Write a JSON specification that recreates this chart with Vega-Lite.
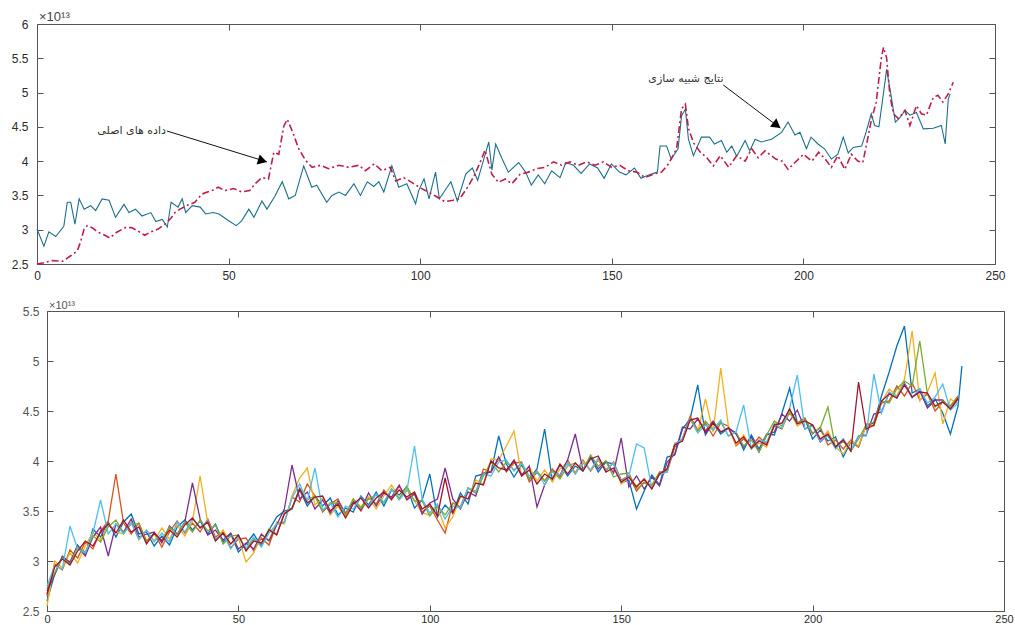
{
  "$schema": "https://vega.github.io/schema/vega-lite/v6.json",
  "background": "white",
  "padding": {"left": 11, "top": 11, "right": 0, "bottom": 0},
  "config": {
    "view": {"stroke": null},
    "axis": {"grid": false, "domainColor": "#555555", "tickColor": "#555555", "labelColor": "#2b2b2b", "labelFont": "Liberation Sans", "labelFontSize": 12, "tickSize": -6, "domainWidth": 1, "tickWidth": 1, "labelFlush": false, "labelOverlap": false}
  },
  "datasets": {
    "sim": [
      {"x":0,"y":3.01},{"x":1.8,"y":2.76},{"x":3.1,"y":2.97},{"x":4.9,"y":2.9},{"x":7,"y":3.05},{"x":7.9,"y":3.4},{"x":8.8,"y":3.4},{"x":9.9,"y":3.08},{"x":11,"y":3.45},{"x":12.3,"y":3.3},{"x":14,"y":3.35},{"x":15.3,"y":3.28},{"x":17,"y":3.45},{"x":18.8,"y":3.43},{"x":20.5,"y":3.18},{"x":22.7,"y":3.37},{"x":24,"y":3.25},{"x":25.7,"y":3.3},{"x":27.4,"y":3.2},{"x":29.7,"y":3.25},{"x":31,"y":3.12},{"x":32.7,"y":3.15},{"x":34,"y":3.04},{"x":35,"y":3.4},{"x":36.8,"y":3.33},{"x":37.9,"y":3.45},{"x":38.8,"y":3.25},{"x":40.5,"y":3.35},{"x":42.6,"y":3.33},{"x":44,"y":3.23},{"x":46,"y":3.25},{"x":47.5,"y":3.23},{"x":50,"y":3.13},{"x":52,"y":3.06},{"x":53.4,"y":3.13},{"x":55.3,"y":3.3},{"x":56.6,"y":3.18},{"x":58.7,"y":3.42},{"x":60,"y":3.3},{"x":62,"y":3.48},{"x":64,"y":3.7},{"x":65.7,"y":3.45},{"x":67.4,"y":3.5},{"x":69.6,"y":3.93},{"x":71.7,"y":3.62},{"x":73,"y":3.65},{"x":75.6,"y":3.4},{"x":77,"y":3.5},{"x":78.8,"y":3.55},{"x":80.5,"y":3.5},{"x":82.7,"y":3.67},{"x":84.4,"y":3.5},{"x":86.2,"y":3.7},{"x":87.9,"y":3.63},{"x":89.2,"y":3.7},{"x":90.5,"y":3.55},{"x":92.6,"y":3.93},{"x":94.4,"y":3.62},{"x":96.5,"y":3.67},{"x":98.8,"y":3.38},{"x":99.6,"y":3.57},{"x":101,"y":3.74},{"x":102.3,"y":3.45},{"x":104,"y":3.84},{"x":105,"y":3.45},{"x":106.2,"y":3.55},{"x":108,"y":3.7},{"x":109.7,"y":3.42},{"x":111.9,"y":3.81},{"x":113.6,"y":3.9},{"x":115,"y":3.72},{"x":116.6,"y":4.03},{"x":117.9,"y":4.28},{"x":118.7,"y":3.87},{"x":119.7,"y":4.25},{"x":121.4,"y":4.03},{"x":123,"y":3.84},{"x":125.7,"y":3.98},{"x":127.5,"y":3.84},{"x":129,"y":3.65},{"x":130.8,"y":3.8},{"x":132.5,"y":3.67},{"x":134.3,"y":3.86},{"x":136.5,"y":3.76},{"x":138,"y":3.98},{"x":140,"y":3.94},{"x":142,"y":3.82},{"x":144.2,"y":3.96},{"x":146.3,"y":3.9},{"x":148,"y":3.75},{"x":149.9,"y":3.96},{"x":152,"y":3.84},{"x":153.7,"y":3.8},{"x":155.9,"y":3.9},{"x":157.6,"y":3.75},{"x":159.8,"y":3.8},{"x":161.9,"y":3.84},{"x":162.6,"y":4.22},{"x":164.3,"y":4.22},{"x":165.5,"y":4.03},{"x":167.3,"y":4.18},{"x":168.2,"y":4.66},{"x":169.2,"y":4.76},{"x":170,"y":4.32},{"x":171.3,"y":4.08},{"x":173.4,"y":4.35},{"x":175.5,"y":4.35},{"x":176.8,"y":4.25},{"x":178.6,"y":4.3},{"x":180,"y":4.13},{"x":181.3,"y":4.22},{"x":182.6,"y":4.07},{"x":184.8,"y":4.3},{"x":186,"y":4.15},{"x":187.4,"y":4.32},{"x":189,"y":4.28},{"x":191.7,"y":4.32},{"x":194.3,"y":4.42},{"x":196,"y":4.57},{"x":197.8,"y":4.38},{"x":199.1,"y":4.42},{"x":200.8,"y":4.18},{"x":202,"y":4.35},{"x":203.8,"y":4.25},{"x":205.5,"y":4.18},{"x":207.3,"y":4.03},{"x":209,"y":4.1},{"x":210.4,"y":4.35},{"x":211.7,"y":4.12},{"x":213,"y":4.2},{"x":215.2,"y":4.22},{"x":216.4,"y":4.43},{"x":217.7,"y":4.69},{"x":218.6,"y":4.52},{"x":219.7,"y":4.5},{"x":221.4,"y":5.2},{"x":221.7,"y":5.34},{"x":222.6,"y":5.05},{"x":224,"y":4.57},{"x":225.3,"y":4.64},{"x":226.5,"y":4.74},{"x":227.8,"y":4.67},{"x":229.5,"y":4.71},{"x":231.3,"y":4.47},{"x":233.9,"y":4.48},{"x":236,"y":4.52},{"x":237,"y":4.25},{"x":237.8,"y":4.9},{"x":238.3,"y":4.98}
    ],
    "orig": [
      {"x":0,"y":2.5},{"x":2,"y":2.52},{"x":4,"y":2.55},{"x":6.7,"y":2.54},{"x":8.8,"y":2.62},{"x":10.5,"y":2.69},{"x":11.3,"y":2.81},{"x":12.3,"y":3.01},{"x":13.1,"y":3.06},{"x":14.4,"y":3.03},{"x":16,"y":2.96},{"x":17.7,"y":2.92},{"x":19,"y":2.88},{"x":20.7,"y":2.96},{"x":23,"y":3.03},{"x":24.7,"y":3.03},{"x":26.4,"y":2.98},{"x":28.1,"y":2.92},{"x":29.4,"y":2.96},{"x":31.6,"y":3.01},{"x":33.8,"y":3.1},{"x":35,"y":3.17},{"x":36,"y":3.25},{"x":37.3,"y":3.3},{"x":39,"y":3.35},{"x":41.2,"y":3.4},{"x":43,"y":3.52},{"x":45.6,"y":3.57},{"x":47.3,"y":3.62},{"x":49,"y":3.57},{"x":51.3,"y":3.6},{"x":53.4,"y":3.55},{"x":55.5,"y":3.57},{"x":56.9,"y":3.67},{"x":58.7,"y":3.76},{"x":60.4,"y":3.74},{"x":61.8,"y":4.13},{"x":63.1,"y":4.1},{"x":64.4,"y":4.51},{"x":65.3,"y":4.61},{"x":66.6,"y":4.44},{"x":68.3,"y":4.18},{"x":70.1,"y":4.01},{"x":71.8,"y":3.91},{"x":74,"y":3.94},{"x":76.1,"y":3.89},{"x":78.8,"y":3.94},{"x":81.3,"y":3.91},{"x":84,"y":3.94},{"x":85.7,"y":3.86},{"x":88,"y":3.96},{"x":90,"y":3.86},{"x":92.2,"y":3.91},{"x":93.6,"y":3.71},{"x":95.7,"y":3.76},{"x":97.8,"y":3.69},{"x":100,"y":3.61},{"x":102.2,"y":3.55},{"x":104.3,"y":3.48},{"x":106.4,"y":3.41},{"x":108.6,"y":3.43},{"x":110.3,"y":3.45},{"x":112.6,"y":3.64},{"x":114.3,"y":3.81},{"x":116,"y":4.03},{"x":116.9,"y":4.16},{"x":118.7,"y":3.81},{"x":120.4,"y":3.69},{"x":122.2,"y":3.74},{"x":123.9,"y":3.67},{"x":126.1,"y":3.81},{"x":128.2,"y":3.84},{"x":130.4,"y":3.89},{"x":132.6,"y":3.91},{"x":134.8,"y":3.99},{"x":136.9,"y":3.94},{"x":139.1,"y":3.99},{"x":141.3,"y":3.94},{"x":143.4,"y":3.99},{"x":145.6,"y":3.94},{"x":147.8,"y":3.99},{"x":150,"y":3.91},{"x":152.1,"y":3.94},{"x":154.3,"y":3.86},{"x":156.5,"y":3.84},{"x":158.7,"y":3.76},{"x":160.8,"y":3.81},{"x":163,"y":3.84},{"x":164.8,"y":3.96},{"x":166.9,"y":4.18},{"x":168.2,"y":4.76},{"x":169.2,"y":4.83},{"x":170,"y":4.48},{"x":171.3,"y":4.27},{"x":173.1,"y":4.13},{"x":174.8,"y":4.05},{"x":176.5,"y":3.93},{"x":178.3,"y":4.08},{"x":180.5,"y":3.91},{"x":182.6,"y":4.08},{"x":184.8,"y":4.0},{"x":186.5,"y":4.18},{"x":188.2,"y":4.05},{"x":190,"y":4.15},{"x":192.8,"y":4.03},{"x":194.5,"y":4.0},{"x":196,"y":3.88},{"x":197.8,"y":3.98},{"x":200,"y":4.1},{"x":202.2,"y":4.0},{"x":204,"y":4.13},{"x":205.7,"y":4.03},{"x":207.3,"y":3.91},{"x":209,"y":4.08},{"x":210.8,"y":3.88},{"x":212.5,"y":4.1},{"x":214.2,"y":4.0},{"x":215.5,"y":3.98},{"x":216.4,"y":4.22},{"x":217.7,"y":4.59},{"x":219,"y":4.86},{"x":220.3,"y":5.49},{"x":220.9,"y":5.66},{"x":221.7,"y":5.51},{"x":222.6,"y":4.95},{"x":223.5,"y":4.69},{"x":224.8,"y":4.62},{"x":226.5,"y":4.74},{"x":227.8,"y":4.52},{"x":229.5,"y":4.81},{"x":230.8,"y":4.69},{"x":232.1,"y":4.67},{"x":233.9,"y":4.93},{"x":235.1,"y":4.96},{"x":236.4,"y":4.86},{"x":237.8,"y":4.98},{"x":239.1,"y":5.15}
    ],
    "bot": [
      {"x":0,"a":2.60,"b":2.65,"c":2.55,"d":2.70,"e":2.73,"f":2.75,"g":2.67},
      {"x":2,"a":2.87,"b":2.97,"c":3.00,"d":2.86,"e":2.88,"f":2.95,"g":2.94},
      {"x":4,"a":3.05,"b":2.91,"c":2.93,"d":3.04,"e":3.03,"f":2.92,"g":3.02},
      {"x":6,"a":2.98,"b":3.11,"c":3.08,"d":2.99,"e":2.97,"f":3.35,"g":2.96},
      {"x":8,"a":3.16,"b":3.03,"c":2.98,"d":3.15,"e":3.14,"f":3.12,"g":3.10},
      {"x":10,"a":3.06,"b":3.19,"c":3.15,"d":3.05,"e":3.09,"f":3.08,"g":3.20},
      {"x":12,"a":3.32,"b":3.12,"c":3.29,"d":3.24,"e":3.25,"f":3.28,"g":3.15},
      {"x":14,"a":3.24,"b":3.30,"c":3.21,"d":3.34,"e":3.19,"f":3.61,"g":3.29},
      {"x":16,"a":3.39,"b":3.40,"c":3.37,"d":3.05,"e":3.34,"f":3.27,"g":3.37},
      {"x":18,"a":3.24,"b":3.87,"c":3.29,"d":3.37,"e":3.41,"f":3.37,"g":3.28},
      {"x":20,"a":3.39,"b":3.38,"c":3.27,"d":3.29,"e":3.28,"f":3.27,"g":3.41},
      {"x":22,"a":3.47,"b":3.27,"c":3.39,"d":3.42,"e":3.37,"f":3.38,"g":3.29},
      {"x":24,"a":3.27,"b":3.38,"c":3.21,"d":3.24,"e":3.37,"f":3.22,"g":3.34},
      {"x":26,"a":3.29,"b":3.20,"c":3.31,"d":3.27,"e":3.18,"f":3.31,"g":3.17},
      {"x":28,"a":3.15,"b":3.28,"c":3.20,"d":3.29,"e":3.27,"f":3.19,"g":3.28},
      {"x":30,"a":3.25,"b":3.14,"c":3.33,"d":3.18,"e":3.21,"f":3.28,"g":3.20},
      {"x":32,"a":3.16,"b":3.29,"c":3.22,"d":3.35,"e":3.34,"f":3.19,"g":3.31},
      {"x":34,"a":3.34,"b":3.40,"c":3.36,"d":3.27,"e":3.26,"f":3.39,"g":3.24},
      {"x":36,"a":3.41,"b":3.28,"c":3.25,"d":3.39,"e":3.39,"f":3.29,"g":3.36},
      {"x":38,"a":3.31,"b":3.38,"c":3.40,"d":3.78,"e":3.29,"f":3.42,"g":3.43},
      {"x":40,"a":3.40,"b":3.29,"c":3.85,"d":3.42,"e":3.41,"f":3.34,"g":3.33},
      {"x":42,"a":3.27,"b":3.42,"c":3.38,"d":3.26,"e":3.30,"f":3.40,"g":3.39},
      {"x":44,"a":3.37,"b":3.24,"c":3.21,"d":3.31,"e":3.36,"f":3.22,"g":3.20},
      {"x":46,"a":3.19,"b":3.29,"c":3.31,"d":3.21,"e":3.17,"f":3.27,"g":3.28},
      {"x":48,"a":3.27,"b":3.13,"c":3.17,"d":3.28,"e":3.25,"f":3.12,"g":3.17},
      {"x":50,"a":3.09,"b":3.22,"c":3.23,"d":3.12,"e":3.26,"f":3.24,"g":3.26},
      {"x":52,"a":3.17,"b":3.23,"c":2.99,"d":3.18,"e":3.11,"f":3.13,"g":3.10},
      {"x":54,"a":3.27,"b":3.10,"c":3.08,"d":3.12,"e":3.22,"f":3.24,"g":3.20},
      {"x":56,"a":3.15,"b":3.23,"c":3.26,"d":3.27,"e":3.17,"f":3.14,"g":3.18},
      {"x":58,"a":3.31,"b":3.16,"c":3.21,"d":3.20,"e":3.32,"f":3.28,"g":3.31},
      {"x":60,"a":3.44,"b":3.37,"c":3.39,"d":3.36,"e":3.27,"f":3.37,"g":3.26},
      {"x":62,"a":3.50,"b":3.39,"c":3.37,"d":3.52,"e":3.48,"f":3.38,"g":3.47},
      {"x":64,"a":3.52,"b":3.64,"c":3.65,"d":3.96,"e":3.52,"f":3.63,"g":3.53},
      {"x":66,"a":3.71,"b":3.59,"c":3.83,"d":3.62,"e":3.73,"f":3.77,"g":3.72},
      {"x":68,"a":3.55,"b":3.77,"c":3.93,"d":3.69,"e":3.61,"f":3.60,"g":3.58},
      {"x":70,"a":3.65,"b":3.65,"c":3.56,"d":3.52,"e":3.65,"f":3.93,"g":3.64},
      {"x":72,"a":3.55,"b":3.49,"c":3.63,"d":3.61,"e":3.50,"f":3.51,"g":3.65},
      {"x":74,"a":3.63,"b":3.57,"c":3.46,"d":3.48,"e":3.58,"f":3.58,"g":3.50},
      {"x":76,"a":3.46,"b":3.62,"c":3.55,"d":3.60,"e":3.58,"f":3.44,"g":3.57},
      {"x":78,"a":3.53,"b":3.46,"c":3.44,"d":3.48,"e":3.47,"f":3.55,"g":3.43},
      {"x":80,"a":3.49,"b":3.60,"c":3.62,"d":3.59,"e":3.62,"f":3.52,"g":3.57},
      {"x":82,"a":3.65,"b":3.50,"c":3.54,"d":3.51,"e":3.53,"f":3.64,"g":3.63},
      {"x":84,"a":3.56,"b":3.63,"c":3.64,"d":3.68,"e":3.62,"f":3.54,"g":3.53},
      {"x":86,"a":3.69,"b":3.57,"c":3.52,"d":3.55,"e":3.66,"f":3.67,"g":3.63},
      {"x":88,"a":3.55,"b":3.71,"c":3.65,"d":3.68,"e":3.58,"f":3.59,"g":3.69},
      {"x":90,"a":3.71,"b":3.61,"c":3.76,"d":3.64,"e":3.72,"f":3.72,"g":3.62},
      {"x":92,"a":3.66,"b":3.75,"c":3.63,"d":3.76,"e":3.62,"f":3.61,"g":3.71},
      {"x":94,"a":3.74,"b":3.62,"c":3.72,"d":3.61,"e":3.75,"f":3.70,"g":3.64},
      {"x":96,"a":3.53,"b":3.68,"c":3.60,"d":3.67,"e":3.60,"f":4.15,"g":3.69},
      {"x":98,"a":3.61,"b":3.49,"c":3.48,"d":3.47,"e":3.60,"f":3.62,"g":3.52},
      {"x":100,"a":3.87,"b":3.55,"c":3.46,"d":3.58,"e":3.45,"f":3.48,"g":3.57},
      {"x":102,"a":3.44,"b":3.41,"c":3.54,"d":3.62,"e":3.55,"f":3.57,"g":3.45},
      {"x":104,"a":3.56,"b":3.28,"c":3.33,"d":3.93,"e":3.46,"f":3.42,"g":3.83},
      {"x":106,"a":3.48,"b":3.58,"c":3.44,"d":3.62,"e":3.58,"f":3.55,"g":3.48},
      {"x":108,"a":3.68,"b":3.54,"c":3.64,"d":3.52,"e":3.54,"f":3.53,"g":3.65},
      {"x":110,"a":3.57,"b":3.73,"c":3.62,"d":3.69,"e":3.73,"f":3.73,"g":3.62},
      {"x":112,"a":3.85,"b":3.68,"c":3.81,"d":3.65,"e":3.68,"f":3.70,"g":3.78},
      {"x":114,"a":3.87,"b":3.92,"c":3.77,"d":3.88,"e":3.85,"f":3.87,"g":3.76},
      {"x":116,"a":3.89,"b":3.89,"c":4.02,"d":3.89,"e":3.99,"f":3.85,"g":4.00},
      {"x":118,"a":4.25,"b":4.02,"c":4.01,"d":4.04,"e":3.89,"f":3.99,"g":3.93},
      {"x":120,"a":3.97,"b":3.89,"c":4.15,"d":3.90,"e":3.99,"f":4.01,"g":3.91},
      {"x":122,"a":3.84,"b":3.98,"c":4.30,"d":4.01,"e":3.91,"f":3.90,"g":4.00},
      {"x":124,"a":3.96,"b":3.99,"c":3.85,"d":3.86,"e":3.98,"f":3.98,"g":3.85},
      {"x":126,"a":3.82,"b":3.79,"c":3.94,"d":3.95,"e":3.82,"f":3.85,"g":3.91},
      {"x":128,"a":3.92,"b":3.89,"c":3.80,"d":3.54,"e":3.90,"f":3.89,"g":3.77},
      {"x":130,"a":4.32,"b":3.80,"c":3.91,"d":3.76,"e":3.80,"f":3.76,"g":3.87},
      {"x":132,"a":3.81,"b":3.92,"c":3.79,"d":3.90,"e":3.90,"f":3.89,"g":3.82},
      {"x":134,"a":3.96,"b":3.84,"c":3.92,"d":3.86,"e":3.82,"f":3.86,"g":3.97},
      {"x":136,"a":3.85,"b":4.01,"c":3.99,"d":4.01,"e":3.95,"f":3.98,"g":3.87},
      {"x":138,"a":3.95,"b":3.88,"c":3.87,"d":4.27,"e":3.98,"f":3.87,"g":3.98},
      {"x":140,"a":3.90,"b":4.01,"c":4.00,"d":3.91,"e":3.91,"f":3.98,"g":3.90},
      {"x":142,"a":4.04,"b":3.90,"c":3.91,"d":4.05,"e":4.06,"f":3.91,"g":4.02},
      {"x":144,"a":3.89,"b":4.01,"c":4.02,"d":3.92,"e":3.95,"f":4.03,"g":4.05},
      {"x":146,"a":3.99,"b":3.90,"c":3.92,"d":4.00,"e":4.00,"f":3.91,"g":3.89},
      {"x":148,"a":3.97,"b":3.99,"c":3.98,"d":3.88,"e":3.84,"f":3.98,"g":3.93},
      {"x":150,"a":3.78,"b":3.81,"c":3.77,"d":4.23,"e":3.87,"f":3.80,"g":3.79},
      {"x":152,"a":3.81,"b":3.85,"c":3.84,"d":3.74,"e":3.88,"f":3.85,"g":3.84},
      {"x":154,"a":3.52,"b":3.70,"c":3.75,"d":3.85,"e":3.72,"f":4.17,"g":3.74},
      {"x":156,"a":3.70,"b":3.79,"c":3.82,"d":3.72,"e":3.78,"f":4.13,"g":3.82},
      {"x":158,"a":3.86,"b":3.75,"c":3.74,"d":3.84,"e":3.76,"f":3.73,"g":3.72},
      {"x":160,"a":3.76,"b":3.89,"c":3.88,"d":3.75,"e":3.88,"f":3.86,"g":3.87},
      {"x":162,"a":4.04,"b":3.89,"c":3.92,"d":3.99,"e":3.91,"f":3.89,"g":3.92},
      {"x":164,"a":4.06,"b":4.14,"c":4.18,"d":4.07,"e":4.17,"f":4.17,"g":4.16},
      {"x":166,"a":4.32,"b":4.22,"c":4.20,"d":4.34,"e":4.22,"f":4.22,"g":4.20},
      {"x":168,"a":4.42,"b":4.45,"c":4.41,"d":4.32,"e":4.42,"f":4.42,"g":4.41},
      {"x":170,"a":4.76,"b":4.31,"c":4.29,"d":4.42,"e":4.30,"f":4.28,"g":4.43},
      {"x":172,"a":4.26,"b":4.38,"c":4.62,"d":4.30,"e":4.40,"f":4.36,"g":4.28},
      {"x":174,"a":4.38,"b":4.25,"c":4.29,"d":4.40,"e":4.31,"f":4.31,"g":4.38},
      {"x":176,"a":4.27,"b":4.38,"c":4.93,"d":4.29,"e":4.39,"f":4.41,"g":4.29},
      {"x":178,"a":4.33,"b":4.35,"c":4.35,"d":4.33,"e":4.25,"f":4.25,"g":4.33},
      {"x":180,"a":4.28,"b":4.15,"c":4.16,"d":4.27,"e":4.29,"f":4.29,"g":4.18},
      {"x":182,"a":4.11,"b":4.22,"c":4.26,"d":4.14,"e":4.15,"f":4.56,"g":4.24},
      {"x":184,"a":4.26,"b":4.14,"c":4.12,"d":4.24,"e":4.21,"f":4.12,"g":4.13},
      {"x":186,"a":4.12,"b":4.24,"c":4.18,"d":4.09,"e":4.09,"f":4.21,"g":4.20},
      {"x":188,"a":4.27,"b":4.17,"c":4.14,"d":4.26,"e":4.26,"f":4.19,"g":4.16},
      {"x":190,"a":4.26,"b":4.35,"c":4.38,"d":4.29,"e":4.40,"f":4.37,"g":4.36},
      {"x":192,"a":4.48,"b":4.32,"c":4.37,"d":4.47,"e":4.35,"f":4.33,"g":4.38},
      {"x":194,"a":4.73,"b":4.51,"c":4.50,"d":4.40,"e":4.48,"f":4.53,"g":4.52},
      {"x":196,"a":4.38,"b":4.38,"c":4.35,"d":4.51,"e":4.38,"f":4.86,"g":4.37},
      {"x":198,"a":4.42,"b":4.43,"c":4.40,"d":4.32,"e":4.42,"f":4.32,"g":4.40},
      {"x":200,"a":4.22,"b":4.27,"c":4.36,"d":4.36,"e":4.28,"f":4.35,"g":4.36},
      {"x":202,"a":4.31,"b":4.34,"c":4.21,"d":4.19,"e":4.33,"f":4.20,"g":4.22},
      {"x":204,"a":4.20,"b":4.16,"c":4.30,"d":4.26,"e":4.54,"f":4.25,"g":4.27},
      {"x":206,"a":4.24,"b":4.21,"c":4.14,"d":4.14,"e":4.13,"f":4.12,"g":4.14},
      {"x":208,"a":4.04,"b":4.12,"c":4.07,"d":4.22,"e":4.20,"f":4.22,"g":4.21},
      {"x":210,"a":4.19,"b":4.21,"c":4.20,"d":4.10,"e":4.10,"f":4.11,"g":4.10},
      {"x":212,"a":4.14,"b":4.14,"c":4.15,"d":4.25,"e":4.22,"f":4.25,"g":4.79},
      {"x":214,"a":4.36,"b":4.37,"c":4.35,"d":4.26,"e":4.36,"f":4.25,"g":4.32},
      {"x":216,"a":4.38,"b":4.35,"c":4.36,"d":4.47,"e":4.39,"f":4.87,"g":4.36},
      {"x":218,"a":4.65,"b":4.58,"c":4.59,"d":4.49,"e":4.60,"f":4.48,"g":4.60},
      {"x":220,"a":4.89,"b":4.60,"c":4.72,"d":4.68,"e":4.58,"f":4.69,"g":4.67},
      {"x":222,"a":5.15,"b":4.75,"c":4.65,"d":4.63,"e":4.72,"f":4.64,"g":4.63},
      {"x":224,"a":5.35,"b":4.65,"c":4.82,"d":4.78,"e":4.80,"f":4.77,"g":4.76},
      {"x":226,"a":4.68,"b":4.78,"c":5.30,"d":4.64,"e":4.75,"f":4.63,"g":4.64},
      {"x":228,"a":4.72,"b":4.61,"c":4.60,"d":4.70,"e":5.20,"f":4.72,"g":4.69},
      {"x":230,"a":4.55,"b":4.67,"c":4.69,"d":4.53,"e":4.67,"f":4.58,"g":4.68},
      {"x":232,"a":4.62,"b":4.50,"c":4.88,"d":4.61,"e":4.54,"f":4.64,"g":4.55},
      {"x":234,"a":4.48,"b":4.59,"c":4.37,"d":4.61,"e":4.60,"f":4.77,"g":4.59},
      {"x":236,"a":4.27,"b":4.55,"c":4.62,"d":4.52,"e":4.54,"f":4.51,"g":4.52},
      {"x":238,"a":4.55,"b":4.65,"c":4.57,"d":4.62,"e":4.64,"f":4.58,"g":4.63},
      {"x":239,"a":4.95}
    ]
  },
  "spacing": 47,
  "bounds": "flush",
  "vconcat": [
    {
      "width": 958,
      "height": 240,
      "resolve": {"axis": {"x": "independent", "y": "independent"}},
      "layer": [
        {
          "data": {"name": "sim"},
          "mark": {"type": "line", "color": "#1c6f8c", "strokeWidth": 1.1},
          "encoding": {
            "x": {"field": "x", "type": "quantitative", "title": null, "scale": {"domain": [0, 250], "nice": false, "zero": false}, "axis": {"orient": "bottom", "values": [0, 50, 100, 150, 200, 250], "labelPadding": 12}},
            "y": {"field": "y", "type": "quantitative", "title": null, "scale": {"domain": [2.5, 6], "nice": false, "zero": false}, "axis": {"orient": "left", "values": [2.5, 3, 3.5, 4, 4.5, 5, 5.5, 6], "format": "~g", "labelPadding": 15}}
          }
        },
        {
          "data": {"name": "orig"},
          "mark": {"type": "line", "color": "#c21d4a", "strokeWidth": 1.6, "strokeDash": [7, 3, 2, 3]},
          "encoding": {
            "x": {"field": "x", "type": "quantitative", "axis": null},
            "y": {"field": "y", "type": "quantitative", "axis": null}
          }
        },
        {
          "data": {"values": [{"x": 0, "y": 2.5}]},
          "mark": {"type": "point", "opacity": 0},
          "encoding": {
            "x": {"field": "x", "type": "quantitative", "title": null, "axis": {"orient": "top", "values": [0, 50, 100, 150, 200, 250], "labels": false}},
            "y": {"field": "y", "type": "quantitative", "title": null, "axis": {"orient": "right", "values": [2.5, 3, 3.5, 4, 4.5, 5, 5.5, 6], "labels": false}}
          }
        },
        {
          "data": {"values": [{"x": 33.9, "y": 4.44, "x2": 60, "y2": 3.99}, {"x": 179.1, "y": 5.11, "x2": 194, "y2": 4.48}]},
          "mark": {"type": "rule", "color": "#111111", "strokeWidth": 1},
          "encoding": {
            "x": {"field": "x", "type": "quantitative", "axis": null},
            "y": {"field": "y", "type": "quantitative", "axis": null},
            "x2": {"field": "x2"},
            "y2": {"field": "y2"}
          }
        },
        {
          "data": {"values": [{"x": 58.85, "y": 4.006}]},
          "mark": {"type": "point", "shape": "triangle-right", "angle": 17, "filled": true, "size": 110, "color": "#000000", "opacity": 1},
          "encoding": {
            "x": {"field": "x", "type": "quantitative", "axis": null},
            "y": {"field": "y", "type": "quantitative", "axis": null}
          }
        },
        {
          "data": {"values": [{"x": 193.06, "y": 4.523}]},
          "mark": {"type": "point", "shape": "triangle-right", "angle": 37, "filled": true, "size": 110, "color": "#000000", "opacity": 1},
          "encoding": {
            "x": {"field": "x", "type": "quantitative", "axis": null},
            "y": {"field": "y", "type": "quantitative", "axis": null}
          }
        },
        {
          "data": {"values": [{"x": 33.9, "y": 4.44, "t": "داده های اصلی"}, {"x": 179.4, "y": 5.2, "t": "نتایج شبیه سازی"}]},
          "mark": {"type": "text", "align": "right", "baseline": "middle", "font": "DejaVu Sans", "fontSize": 11, "color": "#333333", "dx": -1},
          "encoding": {
            "x": {"field": "x", "type": "quantitative", "axis": null},
            "y": {"field": "y", "type": "quantitative", "axis": null},
            "text": {"field": "t"}
          }
        },
        {
          "data": {"values": [{"x": 0, "y": 6, "t": "×10¹³"}]},
          "mark": {"type": "text", "align": "left", "baseline": "alphabetic", "font": "Liberation Sans", "fontSize": 13, "color": "#444444", "dx": 2, "dy": -3},
          "encoding": {
            "x": {"field": "x", "type": "quantitative", "axis": null},
            "y": {"field": "y", "type": "quantitative", "axis": null},
            "text": {"field": "t"}
          }
        }
      ]
    },
    {
      "width": 967,
      "height": 300,
      "resolve": {"axis": {"x": "independent", "y": "independent"}},
      "layer": [
        {
          "data": {"name": "bot"},
          "transform": [{"fold": ["a", "b", "c", "d", "e", "f", "g"], "as": ["s", "y"]}],
          "mark": {"type": "line", "strokeWidth": 1.3, "invalid": "filter"},
          "encoding": {
            "x": {"field": "x", "type": "quantitative", "title": null, "scale": {"domain": [0, 250], "range": [10, 967], "nice": false, "zero": false}, "axis": {"orient": "bottom", "values": [0, 50, 100, 150, 200, 250], "labelPadding": 8, "labelFontSize": 11}},
            "y": {"field": "y", "type": "quantitative", "title": null, "scale": {"domain": [2.5, 5.5], "nice": false, "zero": false}, "axis": {"orient": "left", "offset": -10, "values": [2.5, 3, 3.5, 4, 4.5, 5, 5.5], "format": "~g", "labelPadding": 14, "labelColor": "#555555"}},
            "color": {"field": "s", "type": "nominal", "legend": null, "scale": {"domain": ["a", "b", "c", "d", "e", "f", "g"], "range": ["#0072BD", "#D95319", "#EDB120", "#7E2F8E", "#77AC30", "#4DBEEE", "#A2142F"]}}
          }
        },
        {
          "data": {"values": [{"x": 0, "y": 2.5}]},
          "mark": {"type": "point", "opacity": 0},
          "encoding": {
            "x": {"field": "x", "type": "quantitative", "title": null, "axis": {"orient": "top", "values": [0, 50, 100, 150, 200, 250], "labels": false}},
            "y": {"field": "y", "type": "quantitative", "title": null, "axis": {"orient": "right", "values": [2.5, 3, 3.5, 4, 4.5, 5, 5.5], "labels": false}}
          }
        },
        {
          "data": {"values": [{"x": 0, "y": 5.5, "t": "×10¹³"}]},
          "mark": {"type": "text", "align": "left", "baseline": "alphabetic", "font": "Liberation Sans", "fontSize": 11, "color": "#555555", "dx": 2, "dy": -2},
          "encoding": {
            "x": {"field": "x", "type": "quantitative", "axis": null},
            "y": {"field": "y", "type": "quantitative", "axis": null},
            "text": {"field": "t"}
          }
        }
      ]
    }
  ]
}
